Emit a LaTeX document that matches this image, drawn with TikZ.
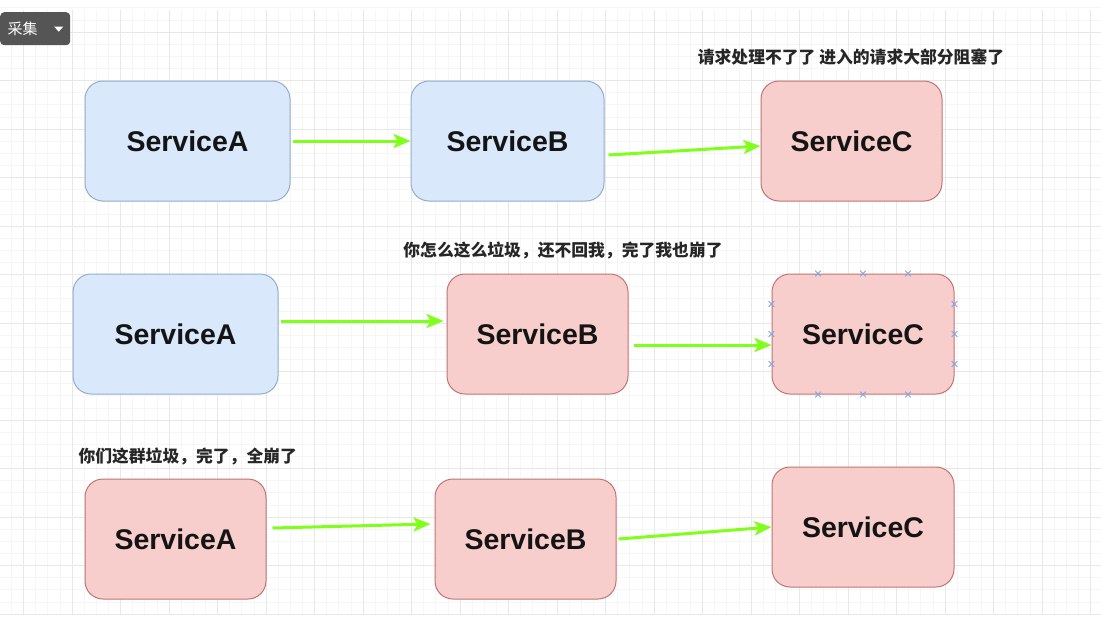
\documentclass[tikz,border=0pt]{standalone}
\usepackage{fontspec}
\setmainfont{Liberation Sans}
\newfontfamily\cjk{Noto Sans CJK SC}
\usetikzlibrary{arrows.meta,calc}
\definecolor{bluefill}{HTML}{DAE8FC}
\definecolor{blueline}{HTML}{94ADCB}
\definecolor{redfill}{HTML}{F8CECC}
\definecolor{redline}{HTML}{C07472}
\definecolor{arrowgreen}{HTML}{80FF1A}
\definecolor{gridminor}{HTML}{F6F6F6}
\definecolor{gridmajor}{HTML}{E8E8E8}
\definecolor{btnfill}{HTML}{555555}
\definecolor{markblue}{HTML}{7EA6E0}
\tikzset{
  svc/.style={draw, line width=1pt, rounded corners=18pt, minimum width=#1, minimum height=120pt,
    font=\fontsize{28.5}{30}\selectfont\bfseries, text=black!92},
  svcblue/.style={svc=#1, fill=bluefill, draw=blueline},
  svcred/.style={svc=#1, fill=redfill, draw=redline},
  flow/.style={draw=arrowgreen, line width=3pt, -{Stealth[length=17pt,width=14pt,inset=4pt]}},
  note/.style={font=\cjk\fontsize{16.8}{18}\selectfont\bfseries, text=black!85},
  selmark/.style={draw=markblue, line width=1pt},
}
\begin{document}
\begin{tikzpicture}[x=1pt,y=-1pt]
\useasboundingbox (0,0) rectangle (1101,627);
\fill[white] (0,0) rectangle (1101,627);
% grid
\foreach \i in {0,...,90} {
  \pgfmathsetmacro{\gx}{23.5+12.125*(\i-1)}
  \draw[gridminor, line width=0.7pt] (\gx,10) -- (\gx,615);
}
\foreach \i in {0,...,50} {
  \pgfmathsetmacro{\gy}{32+12.125*(\i-2)}
  \draw[gridminor, line width=0.7pt] (0,\gy) -- (1101,\gy);
}
\foreach \i in {0,...,23} {
  \pgfmathsetmacro{\gx}{23.5+48.5*\i}
  \draw[gridmajor, line width=0.9pt] (\gx,10) -- (\gx,615);
}
\foreach \i in {0,...,12} {
  \pgfmathsetmacro{\gy}{32+48.5*\i}
  \draw[gridmajor, line width=0.9pt] (0,\gy) -- (1101,\gy);
}
% button
\node[fill=btnfill, rounded corners=4pt, minimum width=70pt, minimum height=33pt, anchor=north west, inner sep=0pt] (btn) at (0,12) {};
\node[text=white, font=\cjk\fontsize{15}{16}\selectfont, anchor=west] (btntext) at ($(btn.west)+(4,0)$) {采集};
\fill[white] ($(btn.center)+(19,-2)$) -- ($(btn.center)+(28,-2)$) -- ($(btn.center)+(23.5,3)$) -- cycle;

% row 1
\node[svcblue=205pt] (a1) at (187.5,141) {ServiceA};
\node[svcblue=193pt] (b1) at (507.5,141) {ServiceB};
\node[svcred=181pt] (c1) at (851.5,141) {ServiceC};
\node[note] (n1) at (851,57) {请求处理不了了 进入的请求大部分阻塞了};
\draw[flow] ($(a1.east)+(2,0)$) -- (b1.west);
\draw[flow] ($(b1.east)+(4,14)$) -- ($(c1.west)+(0,5)$);

% row 2
\node[svcblue=205pt] (a2) at (175.5,334) {ServiceA};
\node[svcred=181pt] (b2) at (537.5,334) {ServiceB};
\node[svcred=182pt] (c2) at (863,334) {ServiceC};
\node[note] (n2) at (563,250) {你怎么这么垃圾，还不回我，完了我也崩了};
\draw[flow] ($(a2.east)+(2,-13)$) -- ($(b2.west)+(-3,-13)$);
\draw[flow] ($(b2.east)+(5,11)$) -- ($(c2.west)+(0,11)$);
% selection markers
\foreach \dx in {-45,0,45} {
  \foreach \yy in {c2.north, c2.south} {
    \draw[selmark] ($(\yy)+(\dx-2.8,-2.8)$) -- ($(\yy)+(\dx+2.8,2.8)$);
    \draw[selmark] ($(\yy)+(\dx-2.8,2.8)$) -- ($(\yy)+(\dx+2.8,-2.8)$);
  }
}
\foreach \dy in {-30,0,30} {
  \foreach \xx in {c2.west, c2.east} {
    \draw[selmark] ($(\xx)+(-2.8,\dy-2.8)$) -- ($(\xx)+(2.8,\dy+2.8)$);
    \draw[selmark] ($(\xx)+(-2.8,\dy+2.8)$) -- ($(\xx)+(2.8,\dy-2.8)$);
  }
}

% row 3
\node[svcred=181pt] (a3) at (175.5,539) {ServiceA};
\node[svcred=181pt] (b3) at (525.5,539) {ServiceB};
\node[svcred=182pt] (c3) at (863,527) {ServiceC};
\node[note, anchor=west] (n3) at (75,456) {你们这群垃圾，完了，全崩了};
\draw[flow] ($(a3.east)+(6,-11)$) -- ($(b3.west)+(-4,-15)$);
\draw[flow] ($(b3.east)+(2,0)$) -- (c3.west);
\end{tikzpicture}
\end{document}
